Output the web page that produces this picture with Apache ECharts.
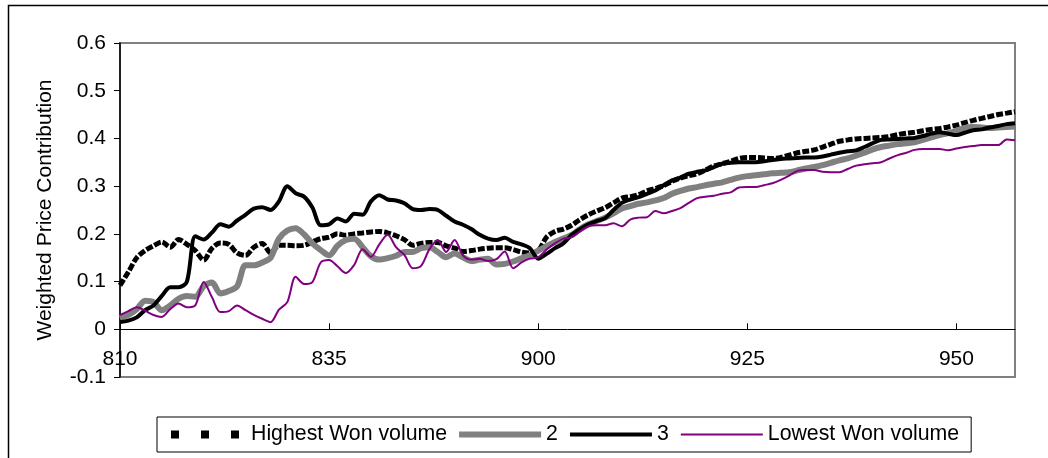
<!DOCTYPE html>
<html>
<head>
<meta charset="utf-8">
<script src="https://cdn.jsdelivr.net/npm/echarts@6/dist/echarts.min.js"></script>
<style>
  html, body { margin: 0; padding: 0; background: #fff; }
  #chart { width: 1048px; height: 458px; }
</style>
</head>
<body>
<div id="chart"></div>
<script>
// Tick labels of the time axis (HMM), one every 25 minutes starting at 8:10
const tickLabels = ['810', '835', '900', '925', '950'];
const seriesNames = ['Highest Won volume', '2', '3', 'Lowest Won volume'];

// One value per minute, from 8:10 (index 0) to 9:57 (index 107)
const highestWon = [
  0.092, 0.12, 0.15, 0.165, 0.175, 0.183, 0.172, 0.188, 0.178, 0.165,
  0.145, 0.17, 0.181, 0.178, 0.16, 0.155, 0.172, 0.18, 0.16, 0.176,
  0.176, 0.175, 0.176, 0.183, 0.19, 0.193, 0.2, 0.197, 0.2, 0.202,
  0.204, 0.205, 0.202, 0.196, 0.188, 0.176, 0.18, 0.182, 0.182, 0.175,
  0.17, 0.163, 0.165, 0.168, 0.17, 0.171, 0.171, 0.167, 0.162, 0.16,
  0.165, 0.193, 0.205, 0.21, 0.218, 0.23, 0.24, 0.248, 0.255, 0.265,
  0.275, 0.278, 0.282, 0.29, 0.295, 0.301, 0.31, 0.317, 0.322, 0.326,
  0.334, 0.342, 0.347, 0.352, 0.358, 0.36, 0.36, 0.359, 0.358, 0.36,
  0.365, 0.37, 0.373, 0.376, 0.382, 0.388, 0.394, 0.397, 0.399, 0.4,
  0.401, 0.402, 0.404, 0.408, 0.411, 0.413, 0.416, 0.419, 0.421, 0.424,
  0.428, 0.433, 0.438, 0.442, 0.446, 0.45, 0.453, 0.456
];
const series2 = [
  0.023, 0.03, 0.042, 0.06, 0.057, 0.04, 0.05, 0.064, 0.07, 0.068,
  0.09, 0.098, 0.075, 0.08, 0.09, 0.134, 0.134, 0.14, 0.15, 0.19,
  0.207, 0.212, 0.199, 0.18, 0.166, 0.155, 0.175, 0.187, 0.19, 0.172,
  0.153, 0.146, 0.149, 0.154, 0.162, 0.162, 0.17, 0.172, 0.162, 0.151,
  0.159, 0.151, 0.143, 0.146, 0.148, 0.136, 0.137, 0.142, 0.149, 0.155,
  0.165, 0.174, 0.183, 0.19, 0.198, 0.21, 0.22, 0.227, 0.234, 0.243,
  0.253, 0.258, 0.263, 0.266, 0.27, 0.275, 0.284, 0.29, 0.295, 0.298,
  0.302, 0.305, 0.308, 0.313, 0.318, 0.321, 0.323, 0.325, 0.327, 0.328,
  0.329, 0.333, 0.337, 0.34, 0.344, 0.349, 0.354, 0.358, 0.364, 0.37,
  0.377, 0.382, 0.385, 0.388, 0.39, 0.392, 0.397, 0.402, 0.407, 0.411,
  0.416, 0.422, 0.424, 0.423, 0.422, 0.423, 0.424, 0.425
];
const series3 = [
  0.015, 0.018, 0.025, 0.04, 0.05, 0.07, 0.088, 0.088, 0.1, 0.195,
  0.188, 0.203, 0.22, 0.215, 0.228, 0.24, 0.253, 0.256, 0.25, 0.268,
  0.3, 0.285, 0.278, 0.255, 0.218, 0.22, 0.232, 0.226, 0.242, 0.24,
  0.268, 0.281, 0.272, 0.27, 0.264, 0.252, 0.25, 0.252, 0.25, 0.238,
  0.226, 0.219, 0.21, 0.198, 0.19, 0.187, 0.192, 0.183, 0.178, 0.17,
  0.148, 0.158, 0.17, 0.18, 0.198, 0.21, 0.22, 0.227, 0.233, 0.25,
  0.265, 0.272, 0.277, 0.284, 0.291, 0.302, 0.312, 0.318, 0.326, 0.33,
  0.333, 0.34, 0.347, 0.349, 0.35, 0.35, 0.35, 0.352, 0.355, 0.357,
  0.358, 0.359, 0.36, 0.36, 0.362, 0.366, 0.37, 0.373, 0.375, 0.382,
  0.39, 0.397, 0.398, 0.399, 0.4, 0.401, 0.405, 0.41, 0.413, 0.41,
  0.407, 0.412, 0.417, 0.419, 0.423, 0.426, 0.43, 0.432
];
const lowestWon = [
  0.03, 0.038, 0.046, 0.039, 0.03, 0.026, 0.042, 0.054, 0.046, 0.05,
  0.099, 0.067, 0.036, 0.038, 0.05, 0.04, 0.03, 0.022, 0.015, 0.041,
  0.057, 0.11, 0.095, 0.099, 0.14, 0.145, 0.132, 0.118, 0.135, 0.168,
  0.152, 0.178, 0.198, 0.172, 0.156, 0.128, 0.133, 0.168, 0.187, 0.162,
  0.187, 0.155, 0.146, 0.148, 0.143, 0.147, 0.163, 0.128, 0.14, 0.148,
  0.151, 0.167, 0.18, 0.19, 0.193, 0.205, 0.216, 0.218, 0.218, 0.222,
  0.216, 0.23, 0.234, 0.235, 0.248, 0.243, 0.248, 0.254, 0.265, 0.275,
  0.278, 0.28, 0.284, 0.287, 0.297, 0.298, 0.298, 0.302, 0.306, 0.313,
  0.322, 0.332, 0.334, 0.334, 0.33, 0.329, 0.329, 0.336, 0.343, 0.346,
  0.348, 0.35, 0.358, 0.365, 0.37, 0.376, 0.378, 0.378, 0.378, 0.375,
  0.379, 0.382, 0.384, 0.386, 0.386, 0.386, 0.398, 0.396
];

const toPairs = arr => arr.map((v, i) => [i, v]);
const FONT = 'Liberation Sans, Arial, sans-serif';

const chart = echarts.init(document.getElementById('chart'), null, { renderer: 'canvas' });
chart.setOption({
  animation: false,
  backgroundColor: '#fff',
  textStyle: { fontFamily: FONT },
  graphic: [{
    type: 'rect', left: 6, top: 3, silent: true,
    shape: { width: 1100, height: 500 },
    style: { fill: 'none', stroke: '#000', lineWidth: 1.5 }
  }],
  grid: {
    left: 120, top: 43, right: 33, bottom: 81,
    show: true, borderColor: '#808080', borderWidth: 2,
    containLabel: false, outerBoundsMode: 'none'
  },
  legend: {
    left: 157, top: 417,
    padding: [7, 12, 7, 14],
    borderColor: '#000', borderWidth: 1,
    itemGap: 12, itemWidth: 82, itemHeight: 8,
    textStyle: { fontSize: 21.3, color: '#000', fontFamily: FONT },
    data: [
      { name: seriesNames[0],
        icon: 'path://M0,0h8v8h-8z M30,0h8v8h-8z M60,0h8v8h-8z',
        itemStyle: { color: '#000', borderWidth: 0 } },
      { name: seriesNames[1],
        icon: 'path://M0,0h82v6h-82z',
        itemStyle: { color: '#808080', borderWidth: 0 } },
      { name: seriesNames[2],
        icon: 'path://M0,0h82v4h-82z',
        itemStyle: { color: '#000', borderWidth: 0 } },
      { name: seriesNames[3],
        icon: 'path://M0,0h82v2h-82z',
        itemStyle: { color: '#800080', borderWidth: 0 } }
    ]
  },
  xAxis: {
    type: 'value', min: 0, max: 107, interval: 25,
    position: 'bottom', offset: -47.7,
    axisLine: { onZero: false, lineStyle: { color: '#000', width: 1 } },
    axisTick: { show: true, inside: true, length: 6, lineStyle: { color: '#000' } },
    splitLine: { show: false },
    axisLabel: {
      fontSize: 21, color: '#000', margin: 19, fontFamily: FONT,
      showMaxLabel: false,
      formatter: v => (v % 25 === 0 ? tickLabels[v / 25] : '')
    }
  },
  yAxis: {
    type: 'value', min: -0.1, max: 0.6, interval: 0.1,
    name: 'Weighted Price Contribution',
    nameLocation: 'middle', nameGap: 64, nameRotate: 90,
    nameTextStyle: { fontSize: 21, color: '#000', fontFamily: FONT },
    axisLine: { show: true, onZero: false, lineStyle: { color: '#000', width: 1.5 } },
    axisTick: { show: true, inside: false, length: 6, lineStyle: { color: '#000' } },
    splitLine: { show: false },
    axisLabel: {
      fontSize: 21, color: '#000', margin: 14, fontFamily: FONT,
      formatter: v => String(Math.round(v * 10) / 10)
    }
  },
  series: [
    {
      name: seriesNames[0], type: 'line', data: toPairs(highestWon),
      symbol: 'none', smooth: 0.3, color: '#000',
      lineStyle: { color: '#000', width: 5, type: [7, 2] }, z: 2
    },
    {
      name: seriesNames[1], type: 'line', data: toPairs(series2),
      symbol: 'none', smooth: 0.3, color: '#808080',
      lineStyle: { color: '#808080', width: 6 }, z: 3
    },
    {
      name: seriesNames[2], type: 'line', data: toPairs(series3),
      symbol: 'none', smooth: 0.3, color: '#000',
      lineStyle: { color: '#000', width: 4 }, z: 4
    },
    {
      name: seriesNames[3], type: 'line', data: toPairs(lowestWon),
      symbol: 'none', smooth: 0.3, color: '#800080',
      lineStyle: { color: '#800080', width: 2 }, z: 5
    }
  ]
});
</script>
</body>
</html>
